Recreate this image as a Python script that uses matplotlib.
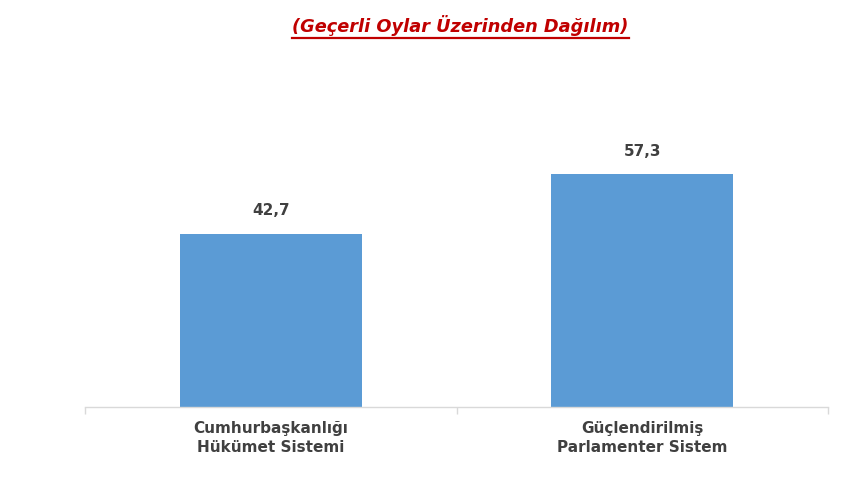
import numpy as np
import matplotlib.pyplot as plt
from matplotlib.lines import Line2D

categories = ['Cumhurbaşkanlığı\nHükümet Sistemi', 'Güçlendirilmiş\nParlamenter Sistem']
values = [42.7, 57.3]
value_labels = ['42,7', '57,3']
title = '(Geçerli Oylar Üzerinden Dağılım)'

bar_color = '#5B9BD5'
text_color = '#404040'
axis_color = '#D9D9D9'

fig = plt.figure(figsize=(8.64, 4.8), dpi=100)
ax = fig.add_axes([85/864, 1 - 407/480, 743/864, 307/480])

x = np.arange(len(values))
bars = ax.bar(x, values, width=0.49, color=bar_color, zorder=2)

for b, lab in zip(bars, value_labels):
    ax.annotate(lab, (b.get_x() + b.get_width()/2, b.get_height()),
                xytext=(0, 11), textcoords='offset points',
                ha='center', va='bottom', fontsize=11, fontweight='bold',
                color=text_color)

ax.set_xlim(-0.5, 1.5)
ax.set_ylim(0, 75.6)
for s in ['top', 'right', 'left']:
    ax.spines[s].set_visible(False)
ax.spines['bottom'].set_color(axis_color)
ax.spines['bottom'].set_linewidth(1.0)
ax.set_yticks([])

# category labels, no major tick marks
ax.set_xticks(x)
ax.set_xticklabels(categories, fontsize=11, fontweight='bold', color=text_color,
                   linespacing=1.35)
ax.tick_params(axis='x', length=0, pad=10)
# boundary tick marks
ax.set_xticks([-0.5, 0.5, 1.5], minor=True)
ax.tick_params(axis='x', which='minor', length=5, color=axis_color, width=1)

# title with underline
t = fig.text(0.533, 1 - 25/480, title, ha='center', va='center', fontsize=12.8,
             fontweight='bold', fontstyle='italic', color='#C00000')
fig.canvas.draw()
bb = t.get_window_extent().transformed(fig.transFigure.inverted())
uy = bb.y0 - 2/480
fig.add_artist(Line2D([bb.x0, bb.x1], [uy, uy], transform=fig.transFigure,
                      color='#C00000', linewidth=1.6))

fig.savefig('out.png', dpi=100)
